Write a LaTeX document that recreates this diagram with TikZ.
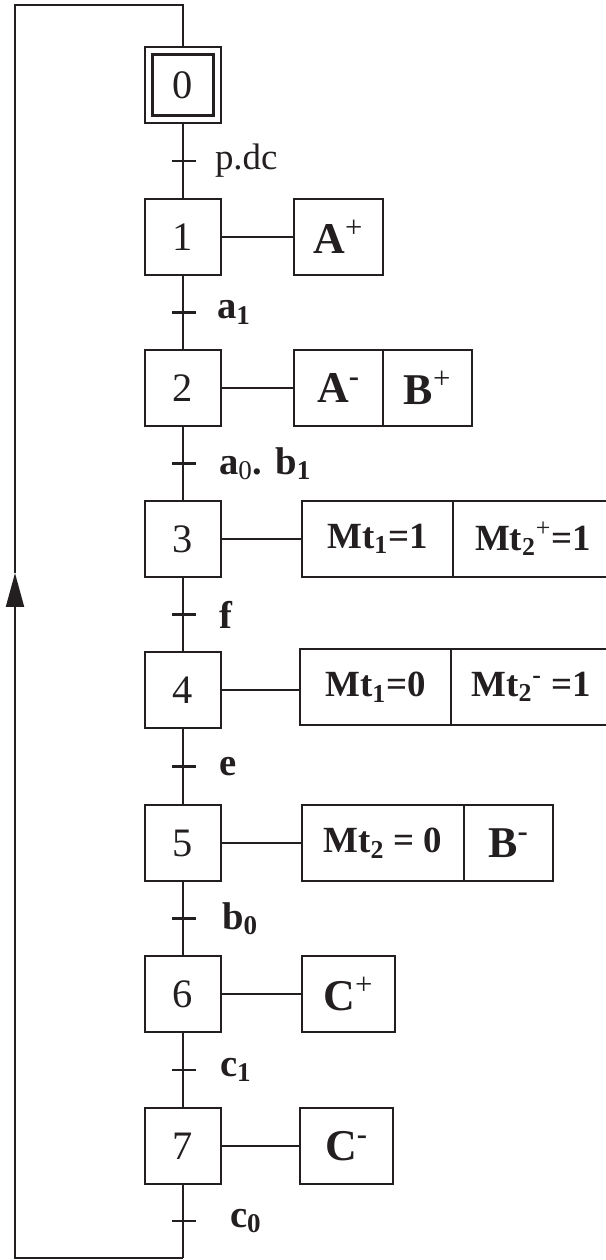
\documentclass[tikz,border=0pt]{standalone}
\usepackage{fontspec}
\setmainfont{Liberation Serif}
\usetikzlibrary{arrows.meta,positioning,calc}
\definecolor{ink}{HTML}{231F20}

\begin{document}
\begin{tikzpicture}[x=0.02cm, y=-0.02cm, color=ink, line width=1.15pt,
  etape/.style={draw, minimum size=1.52cm, inner sep=0pt, outer sep=0pt, font=\fontsize{23}{23}\selectfont},
  action/.style={draw, minimum height=1.52cm, inner sep=0pt, outer sep=0pt, anchor=west, font=\fontsize{25}{25}\selectfont\bfseries},
  mt/.style={font=\fontsize{21}{21}\selectfont\bfseries},
  recep/.style={anchor=west, inner sep=0pt, font=\fontsize{22}{22}\selectfont\bfseries},
  >={Triangle[length=0.68cm,width=0.36cm]}]
\useasboundingbox (0,0) rectangle (605,1260);
\node[etape, minimum size=1.22cm] (s0) at (183,85) {0};
\node[etape] (s0f) at (183,85) {};
\foreach \i/\y in {1/237, 2/388, 3/539, 4/690, 5/843, 6/994, 7/1146}
  \node[etape] (s\i) at (183,\y) {\i};
\coordinate (br) at (183,1258);
\coordinate (bl) at (15,1258);
\coordinate (fl) at (15,573);
\coordinate (tl) at (15,5);
\coordinate (tr) at (183,5);
\foreach \a/\b/\d/\t in {
  s0f/s1/31/{\mdseries\fontsize{21}{21}\selectfont p.dc},
  s1/s2/33/{a\textsubscript{1}},
  s2/s3/35/{a\textsubscript{\mdseries 0}. b\textsubscript{1}},
  s3/s4/35/{f},
  s4/s5/35/{e},
  s5/s6/38/{b\textsubscript{0}},
  s6/s7/36/{c\textsubscript{1}},
  s7/br/46/{c\textsubscript{0}}}{
  \draw (\a.south) -- (\b.north);
  \coordinate (t\b) at ($(\a.south)!0.5!(\b.north)$);
  \draw ($(t\b)+(-11,0)$) -- ($(t\b)+(13,0)$);
  \node[recep] (l\b) at ($(t\b)+(\d,0)$) {\t};
}
\draw[->] (br) -- (bl) -- (fl);
\draw (fl) -- (tl) -- (tr) -- (s0f.north);
\node[action, minimum width=1.78cm] (a1) at (294,237) {A\textsuperscript{\mdseries +}};
\node[action, minimum width=1.78cm] (a2) at (294,388) {A\textsuperscript{-}};
\node[action, minimum width=1.78cm] (b2) at (a2.east) {B\textsuperscript{\mdseries +}};
\node[action, mt, minimum width=3.02cm] (a3) at (302,539) {Mt\textsubscript{1}=1};
\node[action, mt, minimum width=3.2cm] (b3) at (a3.east) {Mt\textsubscript{2}\textsuperscript{\mdseries +}=1};
\node[action, mt, minimum width=3.02cm] (a4) at (300,687) {Mt\textsubscript{1}=0};
\node[action, mt, minimum width=3.2cm] (b4) at (a4.east) {Mt\textsubscript{2}\textsuperscript{-} =1};
\node[action, mt, minimum width=3.24cm] (a5) at (302,843) {Mt\textsubscript{2} = 0};
\node[action, minimum width=1.78cm] (b5) at (a5.east) {B\textsuperscript{-}};
\node[action, minimum width=1.86cm] (a6) at (302,994) {C\textsuperscript{\mdseries +}};
\node[action, minimum width=1.86cm] (a7) at (300,1146) {C\textsuperscript{-}};
\foreach \i in {1,...,7} \draw (s\i.east) -- (s\i.east -| a\i.west);
\end{tikzpicture}
\end{document}
